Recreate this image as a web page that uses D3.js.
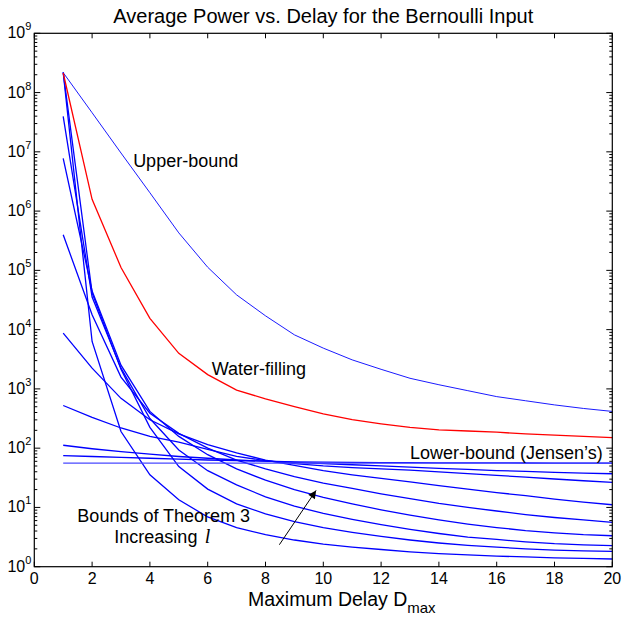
<!DOCTYPE html>
<html>
<head>
<meta charset="utf-8">
<script src="https://cdn.jsdelivr.net/npm/d3@7"></script>
<style>
  body { margin: 0; background: #fff; }
  text { font-family: "Liberation Sans", Arial, Helvetica, sans-serif; fill: #000; }
</style>
</head>
<body>
<div id="chart"></div>
<script>
// values
const delays = [1, 2, 3, 4, 5, 6, 7, 8, 9, 10, 11, 12, 13, 14, 15, 16, 17, 18, 19, 20]

const upperBound = [2.17e8, 4.57e7, 9.55e6, 2.04e6, 4.29e5, 1.13e5, 3.86e4, 1.71e4, 8170, 4875,
  3090, 2140, 1510, 1175, 933, 741, 631, 537, 468, 417]

const waterFilling = [2.14e8, 1.58e6, 1.12e5, 1.55e4, 3980, 1740, 955, 676, 501, 380,
  302, 257, 224, 204, 195, 186, 174, 166, 158, 151]

const jensen = [56, 56, 56, 56, 56, 56, 56, 56, 56, 56, 56, 56, 56, 56, 56, 56, 56, 56, 56, 56]

// bounds of Theorem 3, one row per l
const theorem3 = [
  [2.19e8, 6310, 191, 35.5, 13.5, 6.9, 4.57, 3.47, 2.82, 2.40, 2.14, 1.95, 1.78, 1.66, 1.58, 1.51, 1.46, 1.41, 1.38, 1.35],
  [2.19e8, 4.17e4, 2140, 224, 49, 20.4, 11.5, 7.76, 5.75, 4.57, 3.80, 3.24, 2.82, 2.51, 2.29, 2.14, 2.0, 1.91, 1.85, 1.81],
  [3.98e7, 3.55e4, 2240, 316, 93, 41.7, 24, 15.1, 10.5, 7.94, 6.31, 5.13, 4.27, 3.63, 3.16, 2.88, 2.63, 2.45, 2.34, 2.26],
  [7.76e6, 4.47e4, 2510, 417, 158, 77.6, 44.7, 28.8, 20, 14.8, 11.5, 9.12, 7.41, 6.17, 5.25, 4.57, 4.07, 3.72, 3.47, 3.33],
  [3.98e5, 1.78e4, 1585, 389, 178, 100, 63, 44.7, 33.1, 25.7, 20.9, 17, 14.1, 11.7, 10, 8.71, 7.59, 6.76, 6.17, 5.6],
  [8710, 2240, 692, 302, 174, 115, 83, 63, 51.3, 41.7, 35.5, 30.9, 26.9, 23.4, 20.4, 17.8, 15.8, 13.8, 12.3, 11.1],
  [525, 331, 219, 158, 126, 95.5, 72.4, 61.7, 55, 50.1, 46.8, 44.7, 42.7, 39.8, 37.2, 34.7, 32.4, 30.2, 28.2, 26.4],
  [112, 97.7, 87.1, 79.4, 72.4, 67.6, 63.1, 60.3, 57.5, 55, 52.5, 50.1, 47.9, 45.7, 43.7, 41.7, 40.7, 38.9, 38, 37],
  [75, 72.4, 70, 67.6, 65.3, 63.1, 61.7, 60.3, 58.9, 58.2, 57.5, 57.1, 56.9, 56.6, 56.5, 56.4, 56.2, 56.1, 56, 56]
]

const xTicks = [0, 2, 4, 6, 8, 10, 12, 14, 16, 18, 20]
const yExponents = [0, 1, 2, 3, 4, 5, 6, 7, 8, 9]

// chart dimensions
const width = 623
const height = 623
const margin = { top: 33.3, right: 10.7, bottom: 56.3, left: 34.3 }

const x = d3.scaleLinear()
  .domain([0, 20])
  .range([margin.left, width - margin.right])

const y = d3.scaleLog()
  .domain([1, 1e9])
  .range([height - margin.bottom, margin.top])

const svg = d3.select("#chart")
  .append("svg")
  .attr("width", width)
  .attr("height", height)

const line = d3.line()
  .x(d => x(d[0]))
  .y(d => y(d[1]))

const pairs = vals => delays.map((d, i) => [d, vals[i]])

// curves
svg.append("g")
  .selectAll("path")
  .data(theorem3)
  .join("path")
    .attr("d", d => line(pairs(d)))
    .attr("fill", "none")
    .attr("stroke", "#0000ff")
    .attr("stroke-width", 1.3)

svg.append("path")
  .attr("d", line(pairs(jensen)))
  .attr("fill", "none")
  .attr("stroke", "#4848ff")
  .attr("stroke-width", 1.3)

svg.append("path")
  .attr("d", line(pairs(upperBound)))
  .attr("fill", "none")
  .attr("stroke", "#0000ff")
  .attr("stroke-width", 0.9)

svg.append("path")
  .attr("d", line(pairs(waterFilling)))
  .attr("fill", "none")
  .attr("stroke", "#ff0000")
  .attr("stroke-width", 1.3)

// frame and ticks
const x0 = margin.left, x1 = width - margin.right
const y0 = height - margin.bottom, y1 = margin.top

svg.append("rect")
  .attr("x", x0).attr("y", y1)
  .attr("width", x1 - x0).attr("height", y0 - y1)
  .attr("fill", "none")
  .attr("stroke", "#000")
  .attr("stroke-width", 1.2)

const ticks = svg.append("g").attr("stroke", "#000").attr("stroke-width", 1)

xTicks.forEach(t => {
  ticks.append("line").attr("x1", x(t)).attr("x2", x(t)).attr("y1", y0).attr("y2", y0 - 5)
  ticks.append("line").attr("x1", x(t)).attr("x2", x(t)).attr("y1", y1).attr("y2", y1 + 5)
})

yExponents.forEach(e => {
  const v = Math.pow(10, e)
  ticks.append("line").attr("x1", x0).attr("x2", x0 + 6).attr("y1", y(v)).attr("y2", y(v))
  ticks.append("line").attr("x1", x1).attr("x2", x1 - 6).attr("y1", y(v)).attr("y2", y(v))
  if (e < 9) {
    for (let m = 2; m < 10; m++) {
      const w = m * v
      ticks.append("line").attr("x1", x0).attr("x2", x0 + 3).attr("y1", y(w)).attr("y2", y(w))
      ticks.append("line").attr("x1", x1).attr("x2", x1 - 3).attr("y1", y(w)).attr("y2", y(w))
    }
  }
})

// tick labels
svg.append("g")
  .selectAll("text")
  .data(xTicks)
  .join("text")
    .attr("x", d => x(d))
    .attr("y", y0 + 17)
    .attr("text-anchor", "middle")
    .attr("font-size", 16)
    .text(d => d)

const yLabels = svg.append("g")
  .selectAll("text")
  .data(yExponents)
  .join("text")
    .attr("x", x0 - 3)
    .attr("y", d => y(Math.pow(10, d)) + 5)
    .attr("text-anchor", "end")
    .attr("font-size", 16)

yLabels.append("tspan").text("10")
yLabels.append("tspan")
  .attr("font-size", 11)
  .attr("dy", -8)
  .text(d => d)

// titles
svg.append("text")
  .attr("x", (x0 + x1) / 2)
  .attr("y", 23)
  .attr("text-anchor", "middle")
  .attr("font-size", 20)
  .text("Average Power vs. Delay for the Bernoulli Input")

const xLabel = svg.append("text")
  .attr("x", 248)
  .attr("y", 606)
  .attr("font-size", 19.5)
xLabel.append("tspan").text("Maximum Delay D")
xLabel.append("tspan").attr("font-size", 15).attr("dy", 7).text("max")

// annotations
const note = (t, dx, v, anchor) => svg.append("text")
  .attr("x", x(dx))
  .attr("y", y(v))
  .attr("text-anchor", anchor || "start")
  .attr("font-size", 18)
  .text(t)

note("Upper-bound", 3.42, 5.5e6)
note("Water-filling", 6.14, 1715)
note("Lower-bound (Jensen\u2019s)", 19.67, 65, "end")
note("Bounds of Theorem 3", 1.49, 5.74)
note("Increasing", 2.77, 2.48)

svg.append("text")
  .attr("x", x(5.9))
  .attr("y", y(2.48))
  .attr("font-size", 20)
  .attr("font-style", "italic")
  .style("font-family", "'Liberation Serif', 'Times New Roman', serif")
  .text("l")

// arrow
svg.append("defs").append("marker")
  .attr("id", "head")
  .attr("viewBox", "0 0 10 10")
  .attr("refX", 10).attr("refY", 5)
  .attr("markerWidth", 10).attr("markerHeight", 8)
  .attr("markerUnits", "userSpaceOnUse")
  .attr("orient", "auto")
  .append("path")
    .attr("d", "M0,0L10,5L0,10Z")
    .attr("fill", "#000")

svg.append("line")
  .attr("x1", x(8.48)).attr("y1", y(2.35))
  .attr("x2", x(9.75)).attr("y2", y(19.4))
  .attr("stroke", "#000")
  .attr("stroke-width", 1)
  .attr("marker-end", "url(#head)")
</script>
</body>
</html>
